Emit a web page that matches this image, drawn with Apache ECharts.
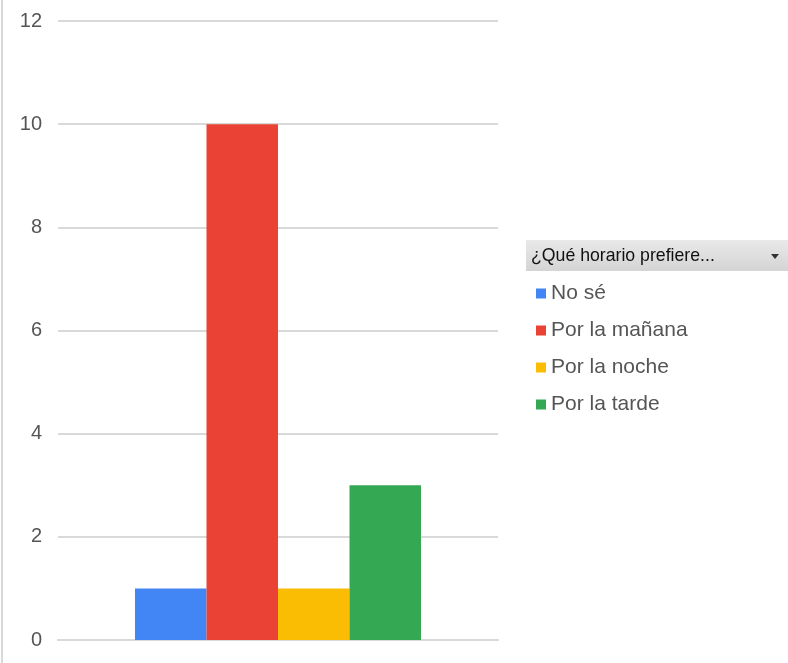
<!DOCTYPE html>
<html><head><meta charset="utf-8">
<script src="https://cdn.jsdelivr.net/npm/echarts@6/dist/echarts.min.js"></script>
<style>html,body{margin:0;padding:0;background:#fff}#c{width:788px;height:663px}</style>
</head><body><div id="c"></div>
<script>
const categories = [''];
const seriesNames = ['No sé', 'Por la mañana', 'Por la noche', 'Por la tarde'];
const seriesValues = [[1], [10], [1], [3]];
const colors = ['#4285f4', '#ea4335', '#fbbc04', '#34a853'];
const legendTitle = '¿Qué horario prefiere...';
const FONT = '"Liberation Sans", Arial, sans-serif';

const chart = echarts.init(document.getElementById('c'));
chart.setOption({
  animation: false,
  color: colors,
  grid: { left: 58, right: 290, top: 21, bottom: 23, containLabel: false },
  xAxis: { type: 'category', data: categories, axisLine: { show: true, lineStyle: { color: '#d9d9d9', width: 2 } },
    axisTick: { show: false }, axisLabel: { show: false } },
  yAxis: { type: 'value', min: 0, max: 12, interval: 2,
    axisLine: { show: false }, axisTick: { show: false },
    axisLabel: { color: '#555', fontSize: 20, fontFamily: FONT, margin: 16 },
    splitLine: { lineStyle: { color: '#d9d9d9', width: 2 } } },
  legend: { orient: 'vertical', left: 536, top: 283, padding: 0, itemWidth: 10, itemHeight: 10, itemGap: 16, icon: 'rect',
    textStyle: { color: '#555', fontSize: 21, fontFamily: FONT },
    data: seriesNames },
  series: seriesNames.map((n, i) => ({ name: n, type: 'bar', data: seriesValues[i], barGap: '0%', barCategoryGap: '35%' })),
  graphic: [
    { type: 'rect', shape: { x: 1, y: 0, width: 2, height: 663 }, style: { fill: '#d9d9d9' }, silent: true },
    { type: 'rect', shape: { x: 526, y: 240, width: 262, height: 31 },
      style: { fill: new echarts.graphic.LinearGradient(0, 0, 0, 1, [{ offset: 0, color: '#e9e9e9' }, { offset: 1, color: '#d4d4d4' }]) }, silent: true },
    { type: 'text', x: 531, y: 256, style: { text: legendTitle, fill: '#111', fontSize: 17.7, fontFamily: FONT, verticalAlign: 'middle' }, silent: true },
    { type: 'polygon', shape: { points: [[771, 254], [779, 254], [775, 259]] }, style: { fill: '#333' }, silent: true }
  ]
});
</script></body></html>
